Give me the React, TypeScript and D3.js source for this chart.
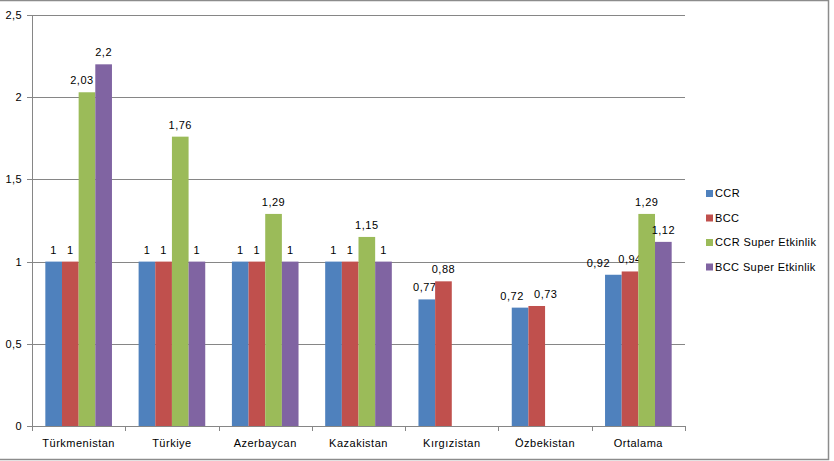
import React from "react";
import * as d3 from "d3";

const categories = ["Türkmenistan", "Türkiye", "Azerbaycan", "Kazakistan", "Kırgızistan", "Özbekistan", "Ortalama"];
const seriesNames = ["CCR", "BCC", "CCR  Super Etkinlik", "BCC Super Etkinlik"];
const ccr = [1, 1, 1, 1, 0.77, 0.72, 0.92];
const bcc = [1, 1, 1, 1, 0.88, 0.73, 0.94];
const ccrSuper = [2.03, 1.76, 1.29, 1.15, null, null, 1.29];
const bccSuper = [2.2, 1, 1, 1, null, null, 1.12];
const yTicks = [0, 0.5, 1, 1.5, 2, 2.5];
const colors = ["#4F81BD", "#C0504D", "#9BBB59", "#8064A2"];

// label nudges (layout only) to avoid overlap, like the reference
const labelNudge: Record<string, number> = { "0-2": -5, "4-0": -2, "5-0": -8, "5-1": 9, "6-0": -15 };

const W = 834, H = 461;
const left = 32, right = 685, top = 15, bottom = 426;
const font = "'Liberation Sans', Arial, sans-serif";
const fmt = (v: number) => String(v).replace(".", ",");

export default function App() {
  const series = [ccr, bcc, ccrSuper, bccSuper];
  const x = d3.scaleBand<string>().domain(categories).range([left, right]).paddingInner(0).paddingOuter(0);
  const bw = x.bandwidth();
  const inner = d3.scaleBand<number>().domain([0, 1, 2, 3]).range([0, bw]).paddingInner(0).paddingOuter(0.8);
  const y = d3.scaleLinear().domain([0, 2.5]).range([bottom, top]);

  return (
    <svg width={W} height={H} style={{ position: "absolute", left: 0, top: 0, background: "#fff" }} fontFamily={font}>
      <rect x={-2} y={0.5} width={830.5} height={459} fill="#fff" stroke="#8c8c8c" strokeWidth={1.5} />
      {yTicks.map((t) => (
        <g key={t}>
          <line x1={left - 5} x2={right} y1={Math.round(y(t)) + 0.5} y2={Math.round(y(t)) + 0.5} stroke="#868686" strokeWidth={1} />
          <text x={22} y={y(t) + 4} textAnchor="end" fontSize={11} letterSpacing={0.4} fill="#000">{fmt(t)}</text>
        </g>
      ))}
      <line x1={left + 0.5} x2={left + 0.5} y1={top} y2={bottom} stroke="#868686" />
      {categories.map((c, i) => (
        <g key={c}>
          {series.map((s, k) => {
            const v = s[i];
            if (v == null) return null;
            const bx = (x(c) as number) + (inner(k) as number);
            const nudge = labelNudge[`${i}-${k}`] || 0;
            return (
              <g key={k}>
                <rect x={bx} y={y(v)} width={inner.bandwidth()} height={y(0) - y(v)} fill={colors[k]} />
                <text x={bx + inner.bandwidth() / 2 + nudge} y={y(v) - 8} textAnchor="middle" fontSize={11} letterSpacing={0.5} fill="#000">{fmt(v)}</text>
              </g>
            );
          })}
          <text x={(x(c) as number) + bw / 2} y={447} textAnchor="middle" fontSize={11} letterSpacing={0.5} fill="#000">{c}</text>
        </g>
      ))}
      {d3.range(categories.length + 1).map((i) => {
        const tx = Math.round(left + i * bw) + 0.5;
        return <line key={i} x1={tx} x2={tx} y1={bottom} y2={bottom + 5} stroke="#868686" />;
      })}
      {seriesNames.map((n, k) => (
        <g key={n}>
          <rect x={706} y={190 + k * 24.5} width={7} height={7} fill={colors[k]} />
          <text x={715} y={197 + k * 24.5} fontSize={11} letterSpacing={0.4} fill="#000">{n}</text>
        </g>
      ))}
    </svg>
  );
}
